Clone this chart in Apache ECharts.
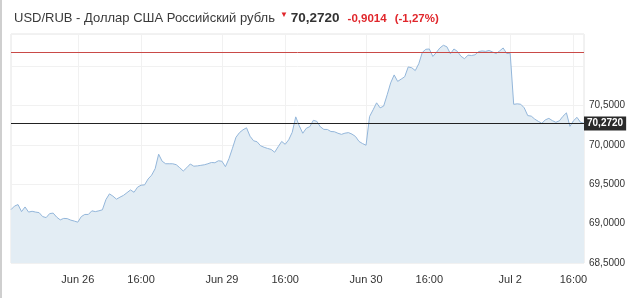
<!DOCTYPE html>
<html>
<head>
<meta charset="utf-8">
<script src="https://cdn.jsdelivr.net/npm/echarts@6/dist/echarts.min.js"></script>
<style>
html,body{margin:0;padding:0;background:#fff;}
#wrap{position:relative;width:642px;height:298px;}
#chart{position:absolute;left:0;top:0;width:642px;height:298px;}
#edge{position:absolute;left:0;top:0;width:2px;height:298px;background:#cfcfcf;}
</style>
</head>
<body>
<div id="wrap"><div id="chart"></div><div id="edge"></div></div>
<script>
// Trading sessions (20-minute steps)
const sessions = [
  { day: 'Jun 25', start: '17:20', end: '23:20' },
  { day: 'Jun 26', start: '10:00', end: '23:20' },
  { day: 'Jun 29', start: '10:00', end: '23:20' },
  { day: 'Jun 30', start: '10:00', end: '23:20' },
  { day: 'Jul 2',  start: '10:00', end: '17:00' }
];
const stepMinutes = 20;

// Tick labels shown on the time axis
const tickKeys   = ['Jun 26 10:00', 'Jun 26 16:00', 'Jun 29 10:00', 'Jun 29 16:00', 'Jun 30 10:00', 'Jun 30 16:00', 'Jul 2 10:00', 'Jul 2 16:00'];
const tickLabels = ['Jun 26', '16:00', 'Jun 29', '16:00', 'Jun 30', '16:00', 'Jul 2', '16:00'];

// Y-axis labelled ticks
const yTicks = [68.5, 69.0, 69.5, 70.0, 70.5];

// USD/RUB quotes
const prices = [
  69.177, 69.222, 69.241, 69.152, 69.211, 69.146, 69.156, 69.146, 69.139, 69.089,
  69.076, 69.127, 69.133, 69.082, 69.047, 69.066, 69.063, 69.044, 69.032, 69.018,
  69.089, 69.116, 69.116, 69.162, 69.152, 69.162, 69.175, 69.304, 69.377, 69.348,
  69.310, 69.335, 69.358, 69.392, 69.427, 69.397, 69.462, 69.487, 69.491, 69.566,
  69.614, 69.696, 69.880, 69.791, 69.759, 69.759, 69.759, 69.747, 69.709, 69.667,
  69.709, 69.756, 69.728, 69.732, 69.739, 69.746, 69.759, 69.775, 69.772, 69.797,
  69.791, 69.722, 69.823, 69.956, 70.095, 70.154, 70.190, 70.215, 70.108, 70.051,
  70.038, 69.987, 69.968, 69.953, 69.941, 69.905, 69.975, 70.042, 70.006, 70.063,
  70.158, 70.354, 70.241, 70.146, 70.209, 70.230, 70.310, 70.297, 70.228, 70.195,
  70.194, 70.168, 70.165, 70.146, 70.132, 70.147, 70.154, 70.135, 70.105, 70.042,
  70.015, 69.994, 70.358, 70.443, 70.532, 70.468, 70.490, 70.633, 70.785, 70.886,
  70.804, 70.833, 70.863, 70.987, 70.977, 70.941, 71.028, 71.171, 71.211, 71.215,
  71.120, 71.171, 71.228, 71.262, 71.243, 71.154, 71.215, 71.184, 71.123, 71.091,
  71.137, 71.132, 71.141, 71.182, 71.190, 71.185, 71.196, 71.177, 71.157, 71.190,
  71.228, 71.158, 71.161, 70.513, 70.519, 70.514, 70.468, 70.370, 70.363, 70.325,
  70.297, 70.272, 70.316, 70.335, 70.306, 70.285, 70.304, 70.361, 70.405, 70.234,
  70.304, 70.348, 70.285, 70.272
];

const lastPrice = 70.2720;
const prevClose = 71.1734;
const title = 'USD/RUB - Доллар США Российский рубль';
const lastText = '70,2720';
const changeText = '-0,9014';
const pctText = '(-1,27%)';

// build category keys from sessions
function toMin(s){ const p = s.split(':'); return (+p[0]) * 60 + (+p[1]); }
function fmt(m){ const h = Math.floor(m / 60), mm = m % 60; return String(h).padStart(2, '0') + ':' + String(mm).padStart(2, '0'); }
const categories = [];
sessions.forEach(s => {
  for (let m = toMin(s.start); m <= toMin(s.end); m += stepMinutes) categories.push(s.day + ' ' + fmt(m));
});
const tickIndex = tickKeys.map(k => categories.indexOf(k));
const isTick = (i) => tickIndex.indexOf(i) >= 0;

const FONT = '"Liberation Sans", Arial, sans-serif';
const chart = echarts.init(document.getElementById('chart'), null, { renderer: 'canvas' });
chart.setOption({
  animation: false,
  textStyle: { fontFamily: FONT },
  title: {
    left: 9, top: 6,
    text: '{a|' + title + '}{m|▼}{b|' + lastText + '}{c|' + changeText + '}{c|' + pctText + '}',
    textStyle: {
      fontWeight: 'normal',
      rich: {
        a: { fontFamily: FONT, fontSize: 13, fontWeight: 'normal', color: '#3a3a3a' },
        m: { fontFamily: FONT, fontSize: 8, color: '#e0262b', padding: [0, 0, 7, 5] },
        b: { fontFamily: FONT, fontSize: 13.5, fontWeight: 'bold', color: '#333', padding: [0, 0, 0, 3] },
        c: { fontFamily: FONT, fontSize: 11.5, fontWeight: 'bold', color: '#e0262b', padding: [0, 0, 0, 8] }
      }
    }
  },
  grid: { left: 11, right: 58, top: 34, bottom: 35, show: true, borderColor: '#e4e4e4', borderWidth: 1, backgroundColor: 'transparent' },
  xAxis: {
    type: 'category',
    data: categories,
    boundaryGap: false,
    axisLine: { show: false },
    axisTick: { show: false },
    axisLabel: {
      interval: (i) => isTick(i),
      formatter: (v, i) => { const k = tickIndex.indexOf(i); return k >= 0 ? tickLabels[k] : ''; },
      color: '#333', fontSize: 11, margin: 11, fontFamily: FONT
    },
    splitLine: { show: true, interval: (i) => isTick(i), lineStyle: { color: '#f1f1f1', width: 1 } }
  },
  yAxis: {
    type: 'value',
    position: 'right',
    min: 68.5, max: 71.405, interval: 0.5,
    axisLine: { show: false },
    axisTick: { show: false },
    axisLabel: {
      margin: 5, color: '#333', fontSize: 10, fontFamily: FONT,
      formatter: (v) => yTicks.some(t => Math.abs(t - v) < 1e-6) ? v.toFixed(4).replace('.', ',') : ''
    },
    splitLine: { show: true, lineStyle: { color: '#f1f1f1', width: 1 } }
  },
  series: [{
    type: 'line',
    data: prices,
    showSymbol: false,
    symbol: 'none',
    lineStyle: { color: '#93b6da', width: 1 },
    areaStyle: { color: '#e3edf4', opacity: 1 },
    z: 2,
    markLine: {
      silent: true,
      symbol: 'none',
      animation: false,
      data: [
        { yAxis: prevClose, lineStyle: { color: '#c94a47', width: 1, type: 'solid' }, label: { show: false } },
        { yAxis: lastPrice, lineStyle: { color: '#222', width: 1, type: 'solid' },
          label: { show: true, position: 'end', distance: 0, formatter: lastText, backgroundColor: '#2a2a2a', color: '#fff',
                   fontFamily: FONT, fontSize: 10, fontWeight: 'bold', padding: [2, 3, 2, 3] } }
      ]
    }
  }]
});
</script>
</body>
</html>
